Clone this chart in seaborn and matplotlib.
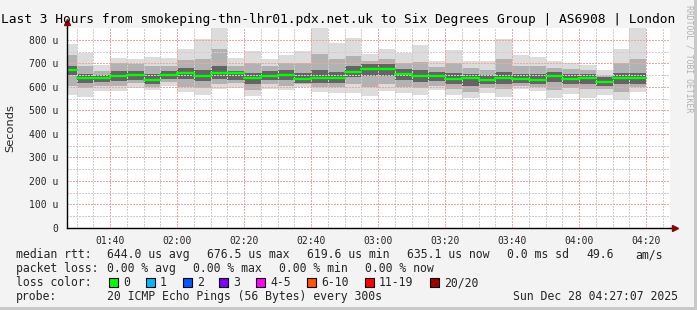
import matplotlib
matplotlib.use("Agg")
import matplotlib.pyplot as plt
import seaborn as sns
import pandas as pd
from matplotlib.patches import Rectangle

# ---------------- data ----------------
# 5-minute bins, start times in minutes after midnight (01:25 ... 04:15)
bin_start = [85 + 5 * i for i in range(35)]
bin_end_last = 260  # 04:20

median_us = [672, 637, 637, 647, 650, 629, 652, 660, 647, 660,
             660, 637, 647, 652, 635, 637, 637, 664, 677, 677,
             654, 647, 647, 635, 639, 629, 637, 635, 630, 647,
             635, 637, 620, 637, 637]
ping_lo = [566, 558, 582, 581, 597, 585, 603, 578, 566, 590,
           595, 561, 592, 586, 598, 578, 575, 575, 562, 582,
           575, 566, 588, 565, 553, 575, 557, 592, 581, 552,
           571, 552, 567, 543, 578]
ping_hi = [783, 742, 694, 721, 718, 727, 722, 760, 804, 849,
           721, 754, 720, 734, 751, 850, 785, 808, 741, 761,
           745, 778, 708, 756, 709, 708, 805, 734, 728, 708,
           703, 694, 673, 762, 850]
mid_lo = [605, 595, 605, 605, 615, 600, 620, 600, 595, 610,
          615, 585, 610, 605, 610, 600, 600, 610, 600, 610,
          600, 595, 605, 590, 580, 595, 590, 605, 600, 585,
          595, 590, 590, 580, 600]
mid_hi = [735, 690, 668, 700, 695, 690, 690, 715, 720, 760,
          690, 700, 690, 700, 700, 740, 720, 730, 710, 720,
          700, 705, 685, 700, 680, 670, 720, 690, 690, 680,
          675, 670, 650, 700, 720]
core_lo = [650, 615, 620, 625, 630, 612, 635, 635, 625, 635,
           630, 610, 628, 630, 618, 615, 615, 640, 645, 645,
           630, 620, 625, 610, 605, 610, 610, 615, 612, 620,
           610, 610, 605, 612, 610]
core_hi = [690, 655, 650, 668, 668, 655, 668, 680, 670, 690,
           668, 660, 668, 672, 660, 670, 665, 690, 695, 695,
           675, 670, 665, 660, 655, 650, 665, 655, 655, 665,
           655, 655, 640, 660, 660]

y_ticks = [0, 100, 200, 300, 400, 500, 600, 700, 800]
y_tick_labels = ["0", "100 u", "200 u", "300 u", "400 u", "500 u", "600 u", "700 u", "800 u"]
x_ticks = [100, 120, 140, 160, 180, 200, 220, 240, 260]
x_tick_labels = ["01:40", "02:00", "02:20", "02:40", "03:00", "03:20", "03:40", "04:00", "04:20"]

title = "Last 3 Hours from smokeping-thn-lhr01.pdx.net.uk to Six Degrees Group | AS6908 | London"
loss_labels = ["0", "1", "2", "3", "4-5", "6-10", "11-19", "20/20"]
loss_colors = ["#00ff00", "#00b8ff", "#0059ff", "#7e00ff", "#ff00ff", "#ff5500", "#ff0000", "#a10000"]

# ---------------- figure ----------------
W, H = 697, 310
sns.set_style("white")
plt.rcParams["font.family"] = ["DejaVu Sans Mono", "DejaVu Sans"]

fig = plt.figure(figsize=(W / 100, H / 100), dpi=100)
fig.patch.set_facecolor("#f3f3f3")

L, R, T, B = 67, 670, 28, 228
ax = fig.add_axes([L / W, 1 - B / H, (R - L) / W, (B - T) / H])
ax.set_facecolor("white")

xs = bin_start + [bin_end_last]
def ext(a):
    return list(a) + [a[-1]]

ax.fill_between(xs, ext(ping_lo), ext(ping_hi), step="post", color="#dcdcdc", lw=0, zorder=1)
ax.fill_between(xs, ext(mid_lo), ext(mid_hi), step="post", color="#b2b2b2", lw=0, zorder=1.1)
ax.fill_between(xs, ext(core_lo), ext(core_hi), step="post", color="#646464", lw=0, zorder=1.2)

# median: horizontal segments only (no vertical connectors)
df = pd.DataFrame({"start": bin_start, "end": bin_start[1:] + [bin_end_last], "median": median_us})
seg = df.melt(id_vars="median", value_vars=["start", "end"], value_name="t").reset_index()
seg["bin"] = seg["index"] % len(df)
sns.lineplot(data=seg, x="t", y="median", units="bin", estimator=None, color="#00ff00",
             lw=1.7, ax=ax, zorder=4)

ax.set_xlim(87 + 7 / 60, 267 + 7 / 60)
ax.set_ylim(0, 850)
ax.set_xlabel("")
ax.set_ylabel("")

ax.set_xticks(x_ticks)
ax.set_xticklabels(x_tick_labels, fontsize=7)
ax.set_xticks([m for m in range(90, 267, 5) if m not in x_ticks], minor=True)
ax.set_yticks(y_ticks)
ax.set_yticklabels(y_tick_labels, fontsize=7)
ax.set_yticks([50 + 100 * i for i in range(8)], minor=True)

ax.set_axisbelow(False)
ax.grid(which="minor", color="#cdcdcd", ls=(0, (2, 2)), lw=0.72, zorder=3)
ax.grid(which="major", color="#f4a4a4", ls=(0, (2, 2)), lw=0.72, zorder=3)
for axis in (ax.xaxis, ax.yaxis):
    for tk in axis.get_major_ticks() + axis.get_minor_ticks():
        tk.gridline.set_antialiased(False)

ax.tick_params(axis="x", which="major", length=2, color="#e06060", pad=4, labelsize=7)
ax.tick_params(axis="x", which="minor", length=2, color="#bbbbbb")
ax.tick_params(axis="y", which="major", length=3, color="black", pad=3, labelsize=7)
ax.tick_params(axis="y", which="minor", length=2, color="#bbbbbb")

for s in ["top", "right"]:
    ax.spines[s].set_visible(False)
for s in ["bottom", "left"]:
    ax.spines[s].set_color("black")
    ax.spines[s].set_linewidth(1.0)
    ax.spines[s].set_zorder(5)

# axis arrows
ax.plot([1.0, 1.006], [0, 0], color="black", lw=1.0, transform=ax.transAxes, clip_on=False, zorder=5)
ax.plot([1.008], [0], marker=">", ms=5, color="#8b0000", mec="#8b0000", transform=ax.transAxes, clip_on=False, zorder=6)
ax.plot([0, 0], [1.0, 1.02], color="black", lw=1.0, transform=ax.transAxes, clip_on=False, zorder=5)
ax.plot([0], [1.03], marker="^", ms=5, color="#8b0000", mec="#8b0000", transform=ax.transAxes, clip_on=False, zorder=6)

def px(x, y):
    return x / W, 1 - y / H

# title
fig.text(*px(1, 23), title, fontsize=9.3, ha="left", va="baseline", color="black")
# y label
fig.text(*px(10, 128), "Seconds", fontsize=8.2, rotation=90, ha="center", va="center",
         family="DejaVu Sans")
# watermark
fig.text(*px(689, 59), "RRDTOOL / TOBI OETIKER", fontsize=5.9, rotation=270,
         ha="center", va="center", color="#b0b0b0")

fs = 8.3
rows = [
    (258, [(16, "median rtt:"), (107, "644.0 us avg"), (207, "676.5 us max"), (307, "619.6 us min"),
           (407, "635.1 us now"), (507, "0.0 ms sd"), (586, "49.6"), (635, "am/s")]),
    (272, [(16, "packet loss:"), (107, "0.00 % avg"), (193, "0.00 % max"), (279, "0.00 % min"),
           (365, "0.00 % now")]),
    (300, [(16, "probe:"), (107, "20 ICMP Echo Pings (56 Bytes) every 300s"),
           (513, "Sun Dec 28 04:27:07 2025")]),
]
for yb, items in rows:
    for xx, s in items:
        fig.text(*px(xx, yb), s, fontsize=fs, ha="left", va="baseline")

fig.text(*px(16, 286), "loss color:", fontsize=fs, ha="left", va="baseline")
box_x = [109, 146, 183, 219, 256, 307, 365, 430]
for bx, lab, col in zip(box_x, loss_labels, loss_colors):
    fig.add_artist(Rectangle(px(bx, 287), 9 / W, 9 / H, transform=fig.transFigure,
                             facecolor=col, edgecolor="black", lw=0.8))
    fig.text(*px(bx + 14, 286), lab, fontsize=fs, ha="left", va="baseline")

# frame shading
fig.add_artist(Rectangle(((W - 3) / W, 0), 3 / W, 1, transform=fig.transFigure, facecolor="#c8c8c8", lw=0))
fig.add_artist(Rectangle((0, 0), 1, 3 / H, transform=fig.transFigure, facecolor="#c8c8c8", lw=0))

fig.savefig("out.png", dpi=100, facecolor=fig.get_facecolor())
